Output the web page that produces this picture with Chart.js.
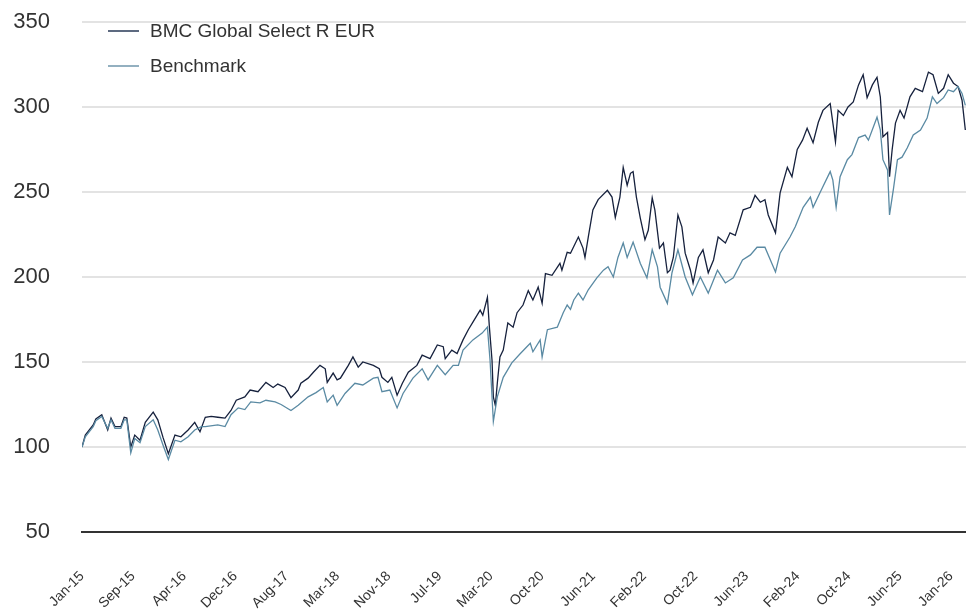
<!DOCTYPE html>
<html>
<head>
<meta charset="utf-8">
<script src="https://cdn.jsdelivr.net/npm/chart.js@4/dist/chart.umd.min.js"></script>
<style>
  body { margin: 0; background: #fff; font-family: "Liberation Sans", Arial, sans-serif; }
  #wrap { position: relative; width: 966px; height: 609px; }
  .legend { position: absolute; left: 108px; top: 19px; color: #333; font-size: 19px; }
  .legend div { display: flex; align-items: center; }
  .legend span.sw { display: inline-block; width: 31px; height: 0; border-top: 2px solid; margin-right: 11px; }
</style>
</head>
<body>
<div id="wrap">
  <canvas id="chart"></canvas>
  <div class="legend">
    <div style="height:24px"><span class="sw" style="border-color:#5d6a80"></span>BMC Global Select R EUR</div>
    <div style="height:46px"><span class="sw" style="border-color:#93b0c0"></span>Benchmark</div>
  </div>
</div>
<script>
// months since Jan-15
const fundMonths = [0.0,0.5,1.7,2.1,3.0,3.9,4.4,5.0,5.9,6.4,6.8,7.4,8.0,8.8,9.6,10.8,11.5,12.3,13.1,14.1,15.0,16.1,17.1,17.9,18.7,19.6,20.6,21.7,22.6,23.4,24.7,25.5,26.7,27.9,29.0,29.7,30.8,31.7,32.8,33.2,34.3,35.1,36.1,36.9,37.2,38.1,38.7,39.2,40.4,41.1,41.9,42.6,44.2,45.1,45.5,46.4,47.0,47.8,48.6,49.5,50.8,51.6,52.8,53.9,54.8,55.1,56.1,56.9,57.8,58.6,59.3,60.4,60.8,61.5,61.8,62.2,62.4,62.7,63.0,63.4,63.9,64.6,65.4,66.0,66.9,67.7,68.4,69.2,69.8,70.3,71.3,72.5,72.8,73.6,74.1,75.3,76.0,76.3,76.8,77.5,78.3,79.7,80.4,80.9,81.6,82.1,82.7,83.2,83.6,84.1,84.7,85.4,85.9,86.5,86.9,87.6,88.2,88.8,89.2,89.7,90.4,91.0,91.5,92.3,92.7,93.5,94.2,95.0,95.8,96.5,97.6,98.3,99.1,100.3,101.4,102.1,102.9,103.6,104.1,105.2,105.9,107.0,107.7,108.5,109.3,110.0,110.9,111.7,112.4,113.5,114.3,114.7,115.5,116.2,117.0,117.8,118.5,119.1,119.9,120.6,121.1,121.5,122.2,122.5,122.9,123.4,124.1,124.7,125.6,126.4,127.5,128.4,129.1,129.9,130.7,131.4,132.2,132.9,133.5,134.0];
const fundValues = [100,107,113,116.5,119,110,117,112,112,117.5,117,100,107,104,114.5,120.5,116,105.5,96,107,106,110,114.5,109,117.5,118,117.5,117,121.5,127.5,129.5,133.5,132.5,138,135,137,135,129,133.5,137.5,140.5,144,148,146,138,143.5,139.5,140.5,148,153,147,150,148,146,141,138,141,130.5,137.5,144,148,154,152,160,159,152,157,155,163,169,173.5,180.5,177.5,188,170.5,151,129.5,124.5,137.5,153,157,173,170.5,179,183.5,192,186.5,194,184.5,202,201,208,204,214.5,214,223.5,217,211.5,223.5,239.5,245.5,251,247,235,247,264.5,254,261,262,247,234.5,222,227.5,246.5,239.5,217,220,202.5,204,211.5,236.5,229.5,214,204,196.5,211.5,216,202.5,210,223.5,220,226,224.5,239.5,241,248,244,245.5,236.5,226,249.5,264.5,259,275,280.5,287.5,279,291,298,302,279.5,298,295,300,303,313,319,305.5,313,317.5,306,282.5,285,259,275,290.5,298,293.5,306,311,309,320.5,319,308,311,319,314,312,304,286.5];

const benchMonths = [0.0,0.5,1.7,2.1,3.0,3.9,4.4,5.0,5.9,6.4,6.8,7.4,8.0,8.8,9.6,10.8,11.5,12.3,13.1,14.1,15.0,16.1,17.1,18.1,18.7,20.6,21.7,22.6,23.7,24.7,25.6,27.0,27.9,29.3,30.2,31.7,32.8,34.3,35.5,36.6,37.2,38.1,38.7,39.9,41.4,42.6,44.2,44.9,45.5,46.7,47.8,48.7,50.2,51.6,52.5,53.9,55.1,56.3,57.1,57.8,59.3,60.7,61.5,61.9,62.4,63.0,63.9,65.2,66.5,68.0,68.4,69.5,69.8,70.6,72.1,73.0,73.6,74.1,74.6,75.3,76.0,76.8,78.1,79.1,79.8,80.6,81.3,82.1,82.7,83.6,84.7,85.7,86.5,87.3,87.7,88.8,89.5,90.4,91.5,92.6,93.8,95.0,96.4,97.6,98.8,100.2,101.4,102.4,103.6,105.2,105.9,107.4,108.2,109.4,110.5,110.9,112.0,113.5,113.9,114.4,115.0,116.1,116.8,117.8,118.8,119.3,120.6,121.1,121.5,122.2,122.5,123.1,123.7,124.4,125.2,126.1,127.2,128.2,129.0,129.7,130.7,131.4,132.2,132.9,133.5,134.0];
const benchValues = [100,106,112,115.5,118,111,116,111,111,116,116,96.5,105,102.5,112,116,110,101,92.6,104,103,106,110,112,112,113,112,119,123,122,126.5,126,127.5,126.5,125,121.5,124.5,129.5,132,135,126.5,130.5,124.5,131.5,137.5,136.5,140.5,141,132.5,133.5,123,131.5,140.5,146,139.5,148,142.5,148,148,157,163,167,170.5,151,115,129.5,141,149.5,155,161,156,163,153,169,170.5,179,183.5,181,186.5,190.5,186.5,192.5,199.5,204,206,200,211.5,220,211.5,220.5,208,199.5,216,206,194,184.5,202.5,216,200,189.5,200,190.5,204,196.5,199.5,210,213,217.5,217.5,203,214,223.5,229.5,241,247,241,250,262,257,241,259,269,272,282,283.5,280.5,294,286.5,269,263,236.5,252,269,270.5,276,283.5,286.5,293.5,306,302,305.5,310,309,312,308,301];

const yTicks = [50, 100, 150, 200, 250, 300, 350];
const tickLabels = ['Jan-15','Sep-15','Apr-16','Dec-16','Aug-17','Mar-18','Nov-18','Jul-19','Mar-20','Oct-20','Jun-21','Feb-22','Oct-22','Jun-23','Feb-24','Oct-24','Jun-25','Jan-26'];
const tickStep = 7.755;
const lastMonth = 134.1;

const toPoints = (xs, ys) => xs.map((x, i) => ({ x: x, y: ys[i] }));

new Chart(document.getElementById('chart'), {
  type: 'line',
  data: {
    datasets: [
      {
        label: 'Benchmark',
        data: toPoints(benchMonths, benchValues),
        borderColor: '#5a8aa3',
        borderWidth: 1.3,
        pointRadius: 0,
        tension: 0,
        order: 0
      },
      {
        label: 'BMC Global Select R EUR',
        data: toPoints(fundMonths, fundValues),
        borderColor: '#16213d',
        borderWidth: 1.3,
        pointRadius: 0,
        tension: 0,
        order: 1
      }
    ]
  },
  options: {
    responsive: true,
    maintainAspectRatio: false,
    animation: false,
    layout: { padding: { top: 22, right: 0, left: 0, bottom: 0 } },
    plugins: { legend: { display: false }, tooltip: { enabled: false } },
    scales: {
      x: {
        type: 'linear',
        min: 0,
        max: lastMonth,
        grid: { display: false, drawTicks: false },
        border: { display: true, color: '#333', width: 2 },
        afterBuildTicks: scale => {
          scale.ticks = tickLabels.map((l, i) => ({ value: i * tickStep }));
        },
        afterFit: scale => {
          scale.height = 77;
          scale.paddingLeft = 0;
          scale.paddingRight = 0;
        },
        ticks: {
          autoSkip: false,
          maxRotation: 45,
          minRotation: 45,
          padding: 36,
          color: '#333',
          font: { family: '"Liberation Sans", Arial, sans-serif', size: 14 },
          callback: (v, i) => tickLabels[i]
        }
      },
      y: {
        min: 50,
        max: 350,
        afterBuildTicks: scale => {
          scale.ticks = yTicks.map(v => ({ value: v }));
        },
        afterFit: scale => {
          scale.width = 82;
          scale.paddingTop = 0;
          scale.paddingBottom = 0;
        },
        grid: { color: '#e3e3e3', lineWidth: 2, drawTicks: false },
        border: { display: false },
        ticks: {
          padding: 32,
          color: '#333',
          font: { family: '"Liberation Sans", Arial, sans-serif', size: 22 }
        }
      }
    }
  }
});
</script>
</body>
</html>
